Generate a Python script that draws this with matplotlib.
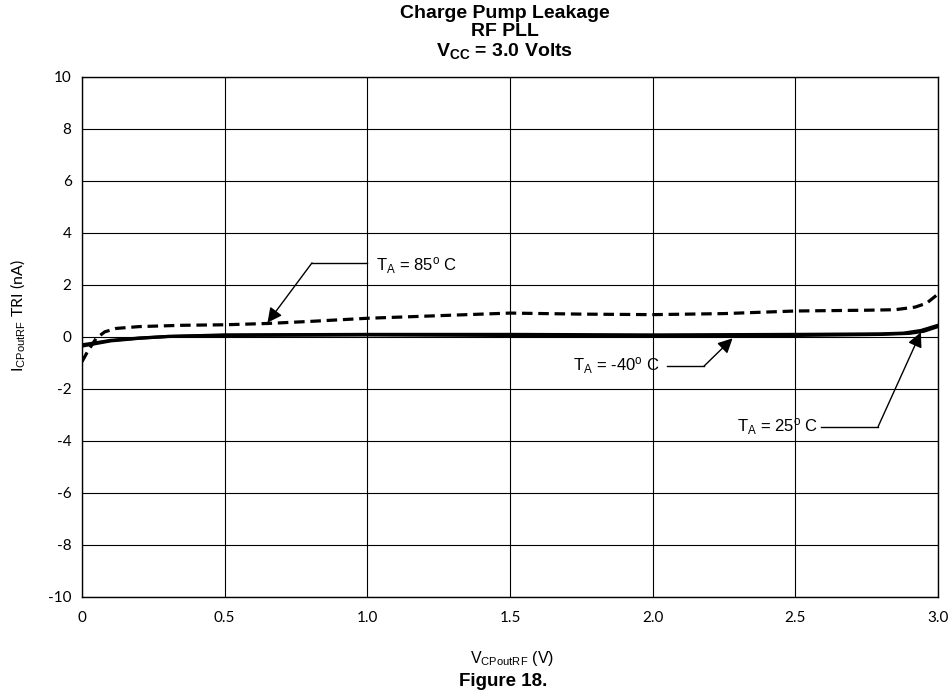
import numpy as np
import matplotlib
matplotlib.use("Agg")
import matplotlib.pyplot as plt

plt.rcParams['font.family'] = ['Liberation Sans', 'DejaVu Sans']
plt.rcParams['mathtext.fontset'] = 'custom'
plt.rcParams['mathtext.rm'] = 'Liberation Sans'
plt.rcParams['mathtext.it'] = 'Liberation Sans'
plt.rcParams['mathtext.bf'] = 'Liberation Sans:bold'
plt.rcParams['axes.unicode_minus'] = False

# curves (V, nA)
v_85 = [0, 0.02, 0.05, 0.08, 0.12, 0.2, 0.35, 0.5, 0.65, 0.8, 1.0, 1.25, 1.5,
        1.75, 2.0, 2.25, 2.5, 2.75, 2.85, 2.92, 2.96, 3.0]
i_85 = [-0.95, -0.55, -0.05, 0.2, 0.33, 0.4, 0.45, 0.47, 0.52, 0.6, 0.72, 0.82, 0.92,
        0.88, 0.86, 0.9, 1.0, 1.03, 1.05, 1.15, 1.3, 1.65]

v_25 = [0, 0.05, 0.1, 0.2, 0.3, 0.5, 1.0, 1.5, 2.0, 2.5, 2.8, 2.88, 2.94, 2.97, 3.0]
i_25 = [-0.35, -0.25, -0.15, -0.05, 0.02, 0.08, 0.1, 0.1, 0.08, 0.1, 0.12, 0.15, 0.25, 0.35, 0.45]

v_m40 = [0, 0.05, 0.1, 0.2, 0.3, 0.5, 1.0, 1.5, 2.0, 2.5, 2.8, 2.9, 2.95, 3.0]
i_m40 = [-0.3, -0.22, -0.13, -0.04, 0.02, 0.06, 0.08, 0.06, 0.04, 0.06, 0.1, 0.14, 0.22, 0.4]

x_ticks = [0, 0.5, 1.0, 1.5, 2.0, 2.5, 3.0]
x_labels = ['0', '0.5', '1.0', '1.5', '2.0', '2.5', '3.0']
y_ticks = list(range(-10, 11, 2))

# annotation: label, text pos, elbow start, elbow end, arrow tip, side
notes = [
    (r'T$_\mathrm{A}$ = 85$^\mathrm{o}$ C', (1.03, 2.75), (1.0, 2.85), (0.806, 2.85), (0.65, 0.55), 'left'),
    (r'T$_\mathrm{A}$ = -40$^\mathrm{o}$ C', (2.025, -1.12), (2.05, -1.12), (2.18, -1.12), (2.28, -0.05), 'right'),
    (r'T$_\mathrm{A}$ = 25$^\mathrm{o}$ C', (2.58, -3.45), (2.59, -3.45), (2.79, -3.45), (2.94, 0.18), 'right'),
]

fig = plt.figure(figsize=(9.52, 6.98), dpi=100)
ax = fig.add_axes([82 / 952, 1 - 597 / 698, 856 / 952, 520 / 698])

ax.plot(v_85, i_85, color='black', lw=2.3, dashes=(3.3, 1.8), solid_capstyle='butt')
ax.plot(v_25, i_25, color='black', lw=2.3)
ax.plot(v_m40, i_m40, color='black', lw=2.3)

ax.set_xlim(0, 3.0)
ax.set_ylim(-10, 10)
ax.set_xticks(x_ticks)
ax.set_xticklabels(x_labels)
ax.set_yticks(y_ticks)
ax.grid(True, color='black', lw=0.8)
ax.tick_params(length=0, labelsize=11)
ax.tick_params(axis='x', pad=10)
ax.tick_params(axis='y', pad=7.5)
for lab in ax.get_xticklabels() + ax.get_yticklabels():
    lab.set_family(['Lato', 'DejaVu Sans'])
for s in ax.spines.values():
    s.set_linewidth(1.0)

for text, tpos, p0, p1, tip, side in notes:
    ax.text(tpos[0], tpos[1], text, fontsize=12, ha=('left' if side == 'left' else 'right'),
            va='center')
    ax.plot([p0[0], p1[0]], [p0[1], p1[1]], color='black', lw=1.0)
    ax.annotate('', xy=tip, xytext=p1,
                arrowprops=dict(arrowstyle='-|>', color='black', lw=1.0,
                                mutation_scale=22, shrinkA=0, shrinkB=0))

fig.text(505 / 952, 1 - 14 / 698, 'Charge Pump Leakage', ha='center', va='center',
         fontsize=14, fontweight='bold')
fig.text(505 / 952, 1 - 32 / 698, 'RF PLL', ha='center', va='center',
         fontsize=14, fontweight='bold')
fig.text(505 / 952, 1 - 51 / 698, r'$\mathbf{V_{CC}}$ = 3.0 Volts', ha='center', va='center',
         fontsize=14, fontweight='bold')

fig.text(18 / 952, 1 - 316 / 698, r'I$_\mathrm{CPoutRF}$ TRI (nA)', rotation=90,
         ha='center', va='center', fontsize=11.5, family=['Lato', 'DejaVu Sans'])
fig.text(512 / 952, 1 - 659 / 698, r'V$_\mathrm{CPoutRF}$ (V)', ha='center', va='center',
         fontsize=11.5)
fig.text(503 / 952, 1 - 681 / 698, 'Figure 18.', ha='center', va='center',
         fontsize=13.5, fontweight='bold')

fig.savefig('out.png', dpi=100)
